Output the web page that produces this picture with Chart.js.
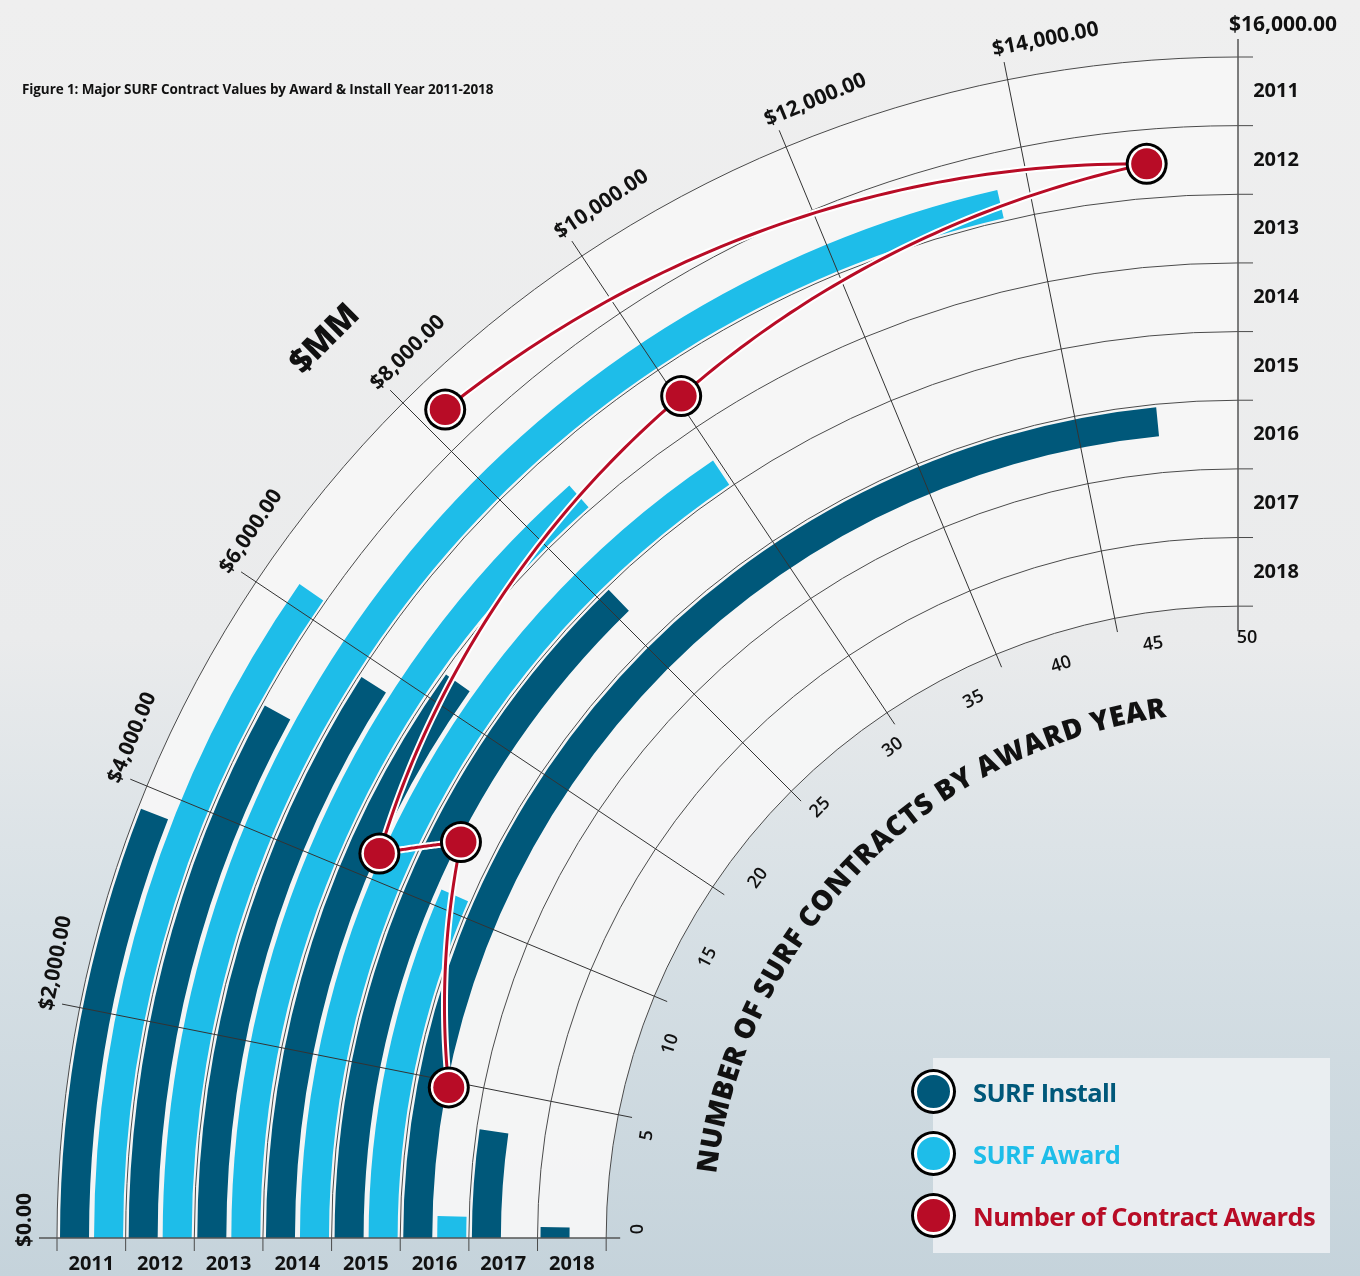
<!DOCTYPE html>
<html>
<head>
<meta charset="utf-8">
<script src="https://cdn.jsdelivr.net/npm/chart.js@4.4.0/dist/chart.umd.min.js"></script>
<style>
  html, body { margin: 0; padding: 0; }
  body {
    width: 1360px; height: 1276px; position: relative; overflow: hidden;
    background: linear-gradient(to bottom, #efefef 0%, #eaebec 50%, #d7e0e5 72%, #c5d3db 100%);
    font-family: "Open Sans", sans-serif;
  }
  #chartSurf { position: absolute; left: 0; top: 0; }
  .title { position: absolute; left: 22px; top: 80px; font-weight: 700; font-size: 13.5px; letter-spacing: -0.1px; color: #111; }
  .legend { position: absolute; left: 933px; top: 1058px; width: 397px; height: 195px; background: rgba(236,240,243,0.9); }
  .item { position: absolute; left: -22px; height: 45px; display: flex; align-items: center; white-space: nowrap; }
  .dot { width: 33px; height: 33px; border-radius: 50%; border: 3px solid #fff; box-shadow: 0 0 0 3px #000; margin-left: 3px; flex: none; }
  .lbl { margin-left: 20px; font-weight: 700; font-size: 25.5px; letter-spacing: -0.6px; }
</style>
</head>
<body>
<canvas id="chartSurf" width="1360" height="1276"></canvas>
<div class="title">Figure 1: Major SURF Contract Values by Award &amp; Install Year 2011-2018</div>
<div class="legend">
  <div class="item" style="top:11px"><div class="dot" style="background:#00587a"></div><span class="lbl" style="color:#00587a">SURF Install</span></div>
  <div class="item" style="top:73px"><div class="dot" style="background:#1ebde9"></div><span class="lbl" style="color:#1ebde9">SURF Award</span></div>
  <div class="item" style="top:135px"><div class="dot" style="background:#b80c26"></div><span class="lbl" style="color:#b80c26">Number of Contract Awards</span></div>
</div>
<script>
const years = ['2011', '2012', '2013', '2014', '2015', '2016', '2017', '2018']
const installValues = [3800, 5100, 5800, 6300, 8150, 15000, 1450, 160]
const awardValues = [6200, 13700, 8600, 9950, 4200, 280, 0, 0]
const contractAwards = [25.7, 47.3, 31.4, 13.4, 15, 6, null, null]
const dollarTicks = [0, 2000, 4000, 6000, 8000, 10000, 12000, 14000, 16000]
const contractTicks = [0, 5, 10, 15, 20, 25, 30, 35, 40, 45, 50]
const dollarMax = 16000
const contractMax = 50

const installColor = '#00587a'
const awardColor = '#1ebde9'
const redColor = '#b80c26'
const clear = 'rgba(0,0,0,0)'

// one ring per year: pad, install bar, gap, award bar, pad
const datasets = []
years.forEach((y, i) => {
    datasets.push({ label: 'pad', data: [dollarMax], backgroundColor: [clear], weight: 3 })
    datasets.push({ label: 'SURF Install ' + y, data: [installValues[i], dollarMax - installValues[i]], backgroundColor: [installColor, clear], weight: 29 })
    datasets.push({ label: 'gap', data: [dollarMax], backgroundColor: [clear], weight: 5 })
    datasets.push({ label: 'SURF Award ' + y, data: [awardValues[i], dollarMax - awardValues[i]], backgroundColor: [awardColor, clear], weight: 29 })
    datasets.push({ label: 'pad', data: [dollarMax], backgroundColor: [clear], weight: 2.6 })
})

const geom = (chart) => {
    const n = chart.data.datasets.length
    const first = chart.getDatasetMeta(0).data[0]
    const last = chart.getDatasetMeta(n - 1).data[0]
    const bounds = years.map((y, i) => chart.getDatasetMeta(i * 5).data[0].outerRadius)
    bounds.push(last.innerRadius)
    const g = { cx: first.x, cy: first.y, start: first.startAngle, span: first.endAngle - first.startAngle, bounds }
    g.rOut = bounds[0]
    g.rIn = bounds[bounds.length - 1]
    g.pt = (r, a) => [g.cx + r * Math.cos(a), g.cy + r * Math.sin(a)]
    return g
}

const overlay = {
    id: 'overlay',
    beforeDatasetsDraw(chart) {
        const ctx = chart.ctx
        const g = geom(chart)
        ctx.save()
        ctx.beginPath()
        ctx.arc(g.cx, g.cy, g.rOut, g.start, g.start + g.span)
        ctx.arc(g.cx, g.cy, g.rIn, g.start + g.span, g.start, true)
        ctx.closePath()
        ctx.fillStyle = 'rgba(246,246,246,0.93)'
        ctx.fill()
        ctx.restore()
    },
    afterDatasetsDraw(chart) {
        const ctx = chart.ctx
        const g = geom(chart)
        ctx.save()

        // ring boundaries + ticks on both axes
        ctx.strokeStyle = '#4a4a4a'
        ctx.lineWidth = 1
        g.bounds.forEach(r => {
            ctx.beginPath()
            ctx.arc(g.cx, g.cy, r, g.start, g.start + g.span)
            ctx.stroke()
            ctx.beginPath()
            ctx.moveTo(g.cx - r, g.cy)
            ctx.lineTo(g.cx - r, g.cy + 13)
            ctx.moveTo(g.cx, g.cy - r)
            ctx.lineTo(g.cx + 15, g.cy - r)
            ctx.stroke()
        })

        // radial $ lines
        ctx.strokeStyle = '#333'
        dollarTicks.forEach(v => {
            if (v === 0 || v === dollarMax) return
            const a = g.start + g.span * v / dollarMax
            const p1 = g.pt(g.rOut + 18, a), p2 = g.pt(g.rIn - 14, a)
            ctx.beginPath()
            ctx.moveTo(p1[0], p1[1])
            ctx.lineTo(p2[0], p2[1])
            ctx.stroke()
        })

        // axes
        ctx.strokeStyle = '#555'
        ctx.lineWidth = 1.5
        ctx.beginPath()
        ctx.moveTo(g.cx - g.rOut - 18, g.cy)
        ctx.lineTo(g.cx - g.rIn + 14, g.cy)
        ctx.moveTo(g.cx, g.cy - g.rOut - 18)
        ctx.lineTo(g.cx, g.cy - g.rIn + 25)
        ctx.stroke()

        // $ labels
        ctx.fillStyle = '#111'
        ctx.font = '700 21px "Open Sans"'
        ctx.textAlign = 'left'
        ctx.textBaseline = 'alphabetic'
        dollarTicks.forEach(v => {
            const a = g.start + g.span * v / dollarMax
            const p = g.pt(g.rOut + 26, a)
            ctx.save()
            ctx.translate(p[0], p[1])
            ctx.rotate(a - g.start - Math.PI / 2)
            ctx.fillText('$' + v.toLocaleString('en-US', { minimumFractionDigits: 2 }), -9, 0)
            ctx.restore()
        })

        // contract count labels
        ctx.font = '600 18px "Open Sans"'
        ctx.textAlign = 'center'
        ctx.textBaseline = 'middle'
        contractTicks.forEach(n => {
            const a = g.start + g.span * n / contractMax
            const p = g.pt(g.rIn - 32, a)
            ctx.save()
            ctx.translate(p[0], p[1])
            ctx.rotate(a - g.start - Math.PI / 2)
            ctx.fillText(String(n), 9, 0)
            ctx.restore()
        })

        // year labels
        ctx.font = '700 20px "Open Sans"'
        years.forEach((y, i) => {
            const rMid = (g.bounds[i] + g.bounds[i + 1]) / 2
            ctx.fillText(y, g.cx - rMid, g.cy + 26)
            ctx.fillText(y, g.cx + 38, g.cy - rMid)
        })

        // $MM
        ctx.save()
        const pm = g.pt(g.rOut + 100, g.start + g.span * 0.495)
        ctx.translate(pm[0], pm[1])
        ctx.rotate(-Math.PI / 4)
        ctx.font = '800 33px "Open Sans"'
        ctx.fillText('$MM', 0, 0)
        ctx.restore()

        // curved axis title
        const title = 'NUMBER OF SURF CONTRACTS BY AWARD YEAR'
        ctx.font = '800 28px "Open Sans"'
        ctx.textAlign = 'center'
        ctx.textBaseline = 'alphabetic'
        const rT = g.rIn - 106
        const a0 = g.start + g.span * 7.0 / 90
        const a1 = g.start + g.span * 82.2 / 90
        const widths = [...title].map(c => ctx.measureText(c).width)
        const total = widths.reduce((s, w) => s + w, 0)
        const extra = ((a1 - a0) * rT - total) / (title.length - 1)
        let s = 0
        ;[...title].forEach((c, i) => {
            const a = a0 + (s + widths[i] / 2) / rT
            const p = g.pt(rT, a)
            ctx.save()
            ctx.translate(p[0], p[1])
            ctx.rotate(a - g.start - Math.PI / 2)
            ctx.fillText(c, 0, 0)
            ctx.restore()
            s += widths[i] + extra
        })

        // contract awards line and points
        const pts = []
        contractAwards.forEach((n, i) => {
            if (n === null) return
            pts.push({ a: g.start + g.span * n / contractMax, r: (g.bounds[i] + g.bounds[i + 1]) / 2 })
        })
        ctx.beginPath()
        pts.forEach((p, i) => {
            if (i === 0) {
                const q = g.pt(p.r, p.a)
                ctx.moveTo(q[0], q[1])
                return
            }
            const prev = pts[i - 1]
            for (let k = 1; k <= 60; k++) {
                const t = k / 60
                const q = g.pt(prev.r + (p.r - prev.r) * t, prev.a + (p.a - prev.a) * t)
                ctx.lineTo(q[0], q[1])
            }
        })
        ctx.lineJoin = 'round'
        ctx.strokeStyle = '#fff'
        ctx.lineWidth = 7
        ctx.stroke()
        ctx.strokeStyle = redColor
        ctx.lineWidth = 3
        ctx.stroke()

        pts.forEach(p => {
            const q = g.pt(p.r, p.a)
            ;[[21, '#000'], [18, '#fff'], [15.5, redColor]].forEach(([r, col]) => {
                ctx.beginPath()
                ctx.arc(q[0], q[1], r, 0, Math.PI * 2)
                ctx.fillStyle = col
                ctx.fill()
            })
        })

        ctx.restore()
    }
}

var ctx = document.getElementById('chartSurf')
var myChart = new Chart(ctx, {
    type: 'doughnut',
    data: {
        labels: ['value', 'rest'],
        datasets: datasets
    },
    options: {
        responsive: false,
        animation: false,
        events: [],
        rotation: 270,
        circumference: 90,
        cutout: '53.5%',
        layout: { padding: { left: 57, top: 57, right: 122, bottom: 38 } },
        elements: { arc: { borderWidth: 0, offset: 0, hoverOffset: 0 } },
        plugins: {
            legend: { display: false },
            tooltip: { enabled: false }
        }
    },
    plugins: [overlay]
})
</script>
</body>
</html>
